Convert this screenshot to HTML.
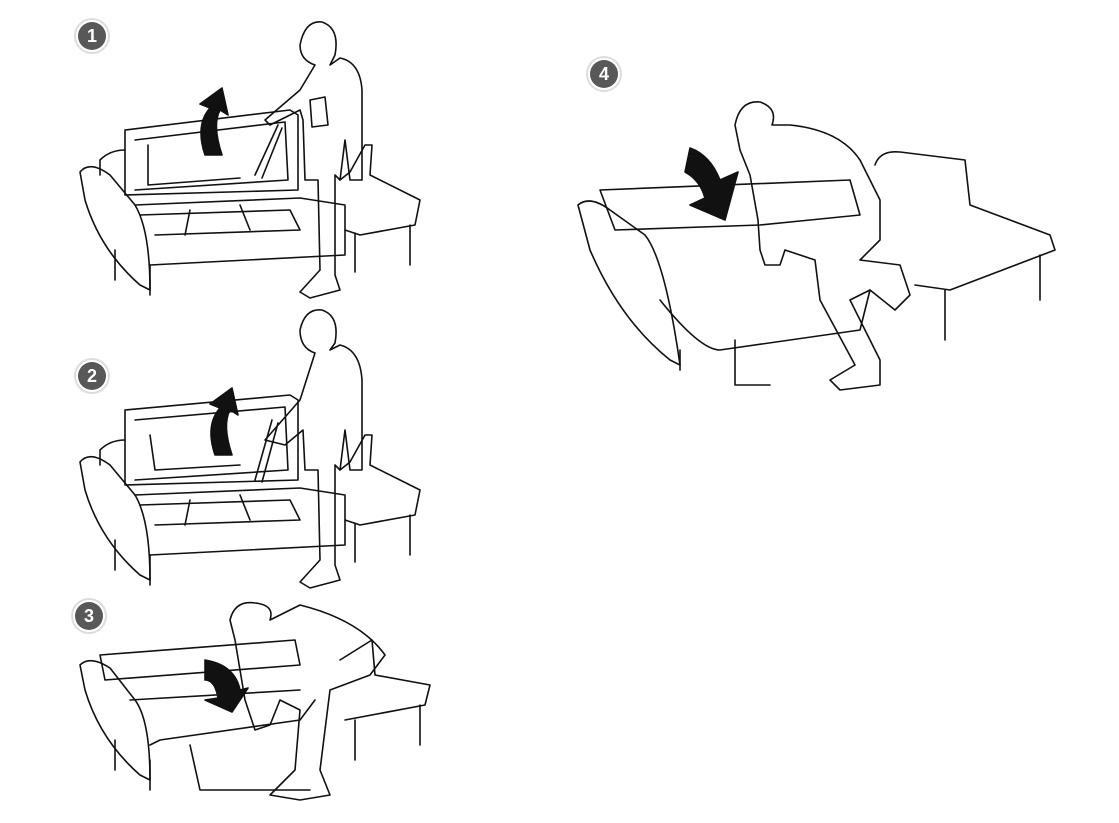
<!DOCTYPE html>
<html><head><style>
html,body{margin:0;padding:0;background:#fff;}
svg{display:block}
text{font-family:"Liberation Sans",sans-serif;font-weight:bold;fill:#fff;font-size:18px}
</style></head><body>
<svg width="1119" height="823" viewBox="0 0 1119 823" xmlns="http://www.w3.org/2000/svg">
<defs>
<g id="badge"><circle r="17" fill="#fff" stroke="#ddd" stroke-width="2"/><circle r="14" fill="#585858"/></g>
</defs>
<g fill="none" stroke="#111" stroke-width="1.6" stroke-linejoin="round" stroke-linecap="round">
<!-- STEP 1 -->
<path d="M80 172 Q90 160 110 175 L135 205 Q150 230 150 290 L140 285 Q100 250 85 200 Z"/>
<path d="M100 160 L100 175 M100 160 Q110 150 125 150"/>
<path d="M125 130 L290 110 L298 115 L298 190 L125 195 Z"/>
<path d="M135 140 L285 122 L288 180 L135 190"/>
<path d="M148 145 L148 185 L240 178"/>
<path d="M135 205 L300 198 L345 205 L345 255 L150 265"/>
<path d="M140 215 L290 210 L300 230 L155 235"/>
<path d="M190 210 L185 235 M240 205 L250 230"/>
<path d="M255 175 L278 125 M262 178 L282 128"/>
<path d="M340 180 L350 172 L365 145 L372 145 L370 175 L420 200 L415 225 L360 235 L345 230"/>
<path d="M355 233 L355 272 M410 225 L410 265 M115 250 L115 280 M150 265 L150 295"/>
<path d="M300 45 Q305 20 322 22 Q340 28 335 55 L330 65 L340 58 Q360 62 362 90 L362 180 L350 180 L345 140 L340 180 L335 175 L335 275 L340 290 L310 298 L300 292 L320 270 L318 180 L305 180 L303 120 L300 110 L270 125 L265 120 L300 90 L315 65 Q300 60 300 45 Z"/>
<path d="M310 100 L325 97 L328 125 L312 127 Z"/>
<!-- arrow 1 -->
<path d="M205 155 Q195 125 210 108 L200 104 L222 88 L228 115 L220 110 Q212 125 222 155 Z" fill="#111"/>
<!-- STEP 2 -->
<path d="M80 462 Q90 450 110 465 L135 495 Q150 520 150 580 L140 575 Q100 540 85 490 Z"/>
<path d="M100 450 L100 465 M100 450 Q110 440 125 440"/>
<path d="M125 410 L290 395 L298 400 L298 480 L125 485 Z"/>
<path d="M135 420 L285 407 L288 470 L135 480"/>
<path d="M150 435 L155 470 L240 465"/>
<path d="M135 495 L300 488 L345 495 L345 545 L150 555"/>
<path d="M140 505 L290 500 L300 520 L155 525"/>
<path d="M190 500 L185 525 M240 495 L250 520"/>
<path d="M255 480 L272 420 M262 482 L278 423"/>
<path d="M340 470 L350 462 L365 435 L372 435 L370 465 L420 490 L415 515 L360 525 L345 520"/>
<path d="M355 523 L355 562 M410 515 L410 555 M115 540 L115 570 M150 555 L150 585"/>
<path d="M300 330 Q305 308 322 310 Q340 316 335 343 L330 350 L340 345 Q360 350 362 380 L362 470 L350 470 L345 430 L340 470 L335 465 L335 565 L340 580 L310 588 L300 582 L320 560 L318 470 L305 470 L303 430 L285 445 L265 440 L300 400 L315 353 Q300 348 300 330 Z"/>
<path d="M215 455 Q205 425 220 408 L210 404 L232 388 L238 415 L230 410 Q222 425 232 455 Z" fill="#111"/>
<!-- STEP 3 -->
<path d="M80 665 Q90 655 110 668 L135 700 Q150 720 150 780 L140 775 Q100 740 85 690 Z"/>
<path d="M100 655 L105 680 L300 665 L295 640 Z"/>
<path d="M130 700 L300 690 M150 745 L160 740 Q230 730 300 720 L315 700"/>
<path d="M190 745 L200 790 L310 790"/>
<path d="M340 660 L372 640 L375 675 L430 685 L425 705 L345 720"/>
<path d="M355 720 L355 760 M420 705 L420 745 M115 740 L115 770 M150 760 L150 790"/>
<path d="M230 620 Q235 600 255 603 Q275 605 270 620 L300 605 Q360 620 385 655 L370 675 L330 690 L320 770 L330 795 L300 800 L270 795 L295 770 L300 710 L280 700 L270 725 L255 730 L245 700 L235 640 Z"/>
<path d="M205 660 Q235 665 240 690 L248 688 L232 712 L205 700 L218 698 Q215 680 205 680 Z" fill="#111"/>
<!-- STEP 4 -->
<path d="M578 205 Q590 195 610 210 L645 235 Q665 260 680 365 L670 360 Q620 320 590 250 Z"/>
<path d="M600 190 L615 230 L760 225 L810 220 L860 215 L850 180 Z"/>
<path d="M660 300 Q700 350 720 350 L860 330 L870 290"/>
<path d="M735 340 L735 385 L770 385"/>
<path d="M875 165 Q880 150 900 152 L965 160 L970 205 L1050 235 L1055 250 L950 290 L915 285"/>
<path d="M945 290 L945 340 M1040 255 L1040 300 M680 350 L680 370"/>
<path d="M735 125 Q740 100 760 102 Q778 108 772 125 L790 125 Q840 130 860 160 L880 200 L880 240 L860 260 L900 265 L910 295 L895 310 L870 290 L850 300 L880 360 L880 385 L840 390 L830 380 L855 365 L820 300 L815 260 L785 250 L780 265 L765 265 L760 250 L758 220 L750 175 L740 150 Z"/>
<path d="M690 148 Q710 155 720 180 L738 172 L725 220 L690 205 L705 198 Q700 180 685 172 Z" fill="#111"/>
</g>
<use href="#badge" x="92" y="36"/><text x="92" y="42" text-anchor="middle">1</text>
<use href="#badge" x="92" y="376"/><text x="92" y="382" text-anchor="middle">2</text>
<use href="#badge" x="89" y="616"/><text x="89" y="622" text-anchor="middle">3</text>
<use href="#badge" x="604" y="74"/><text x="604" y="80" text-anchor="middle">4</text>
</svg>
</body></html>
